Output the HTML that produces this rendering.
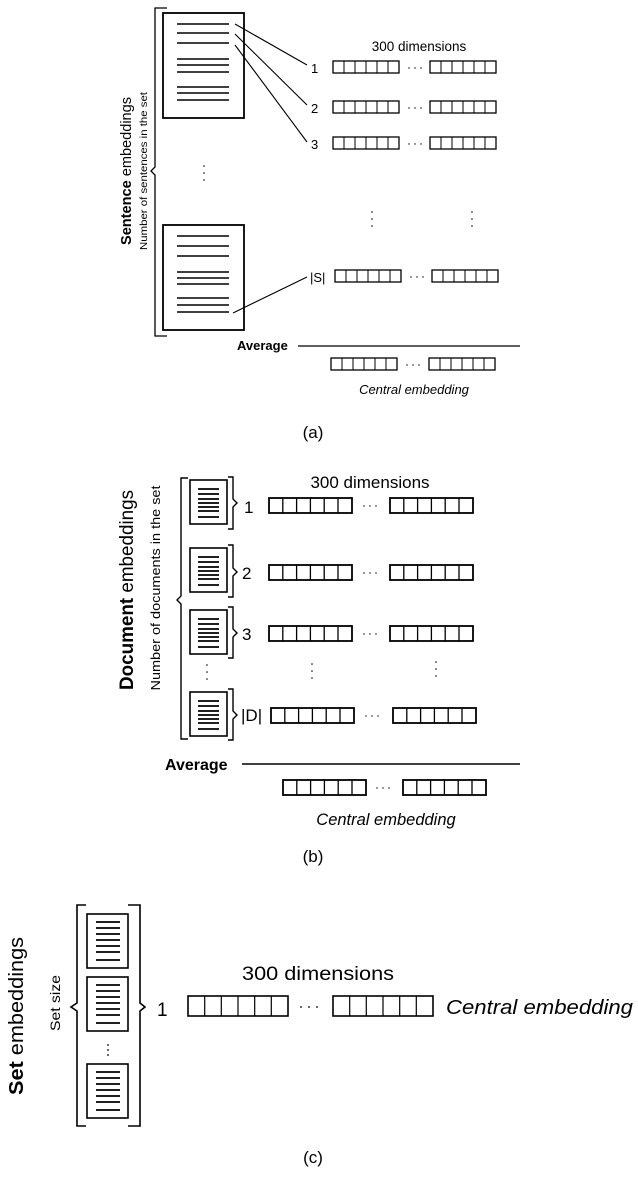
<!DOCTYPE html>
<html><head><meta charset="utf-8"><style>
html,body{margin:0;padding:0;background:#fff;}
svg{display:block;font-family:"Liberation Sans",sans-serif;}
</style></head><body>
<svg width="638" height="1177" viewBox="0 0 638 1177" xmlns="http://www.w3.org/2000/svg">
<defs>
<g id="va" fill="none" stroke="#000" stroke-width="1.3"><rect x="0" y="0" width="66" height="12"/><path d="M11,0V12M22,0V12M33,0V12M44,0V12M55,0V12" stroke-width="1"/></g>
<g id="vb" fill="none" stroke="#000" stroke-width="1.8"><rect x="0" y="0" width="83" height="15"/><path d="M13.8,0V15M27.6,0V15M41.4,0V15M55.2,0V15M69,0V15" stroke-width="1.3"/></g>
<g id="vc" fill="none" stroke="#000" stroke-width="1.6"><rect x="0" y="0" width="100" height="20"/><path d="M16.7,0V20M33.3,0V20M50,0V20M66.7,0V20M83.3,0V20" stroke-width="1.2"/></g>
<g id="db" fill="none" stroke="#000"><rect x="0" y="0" width="37" height="44" stroke-width="1.6"/><path d="M8,9H29M8,14H29M8,19H29M8,23H29M8,27H29M8,31H29M8,37H29" stroke-width="1.8"/></g>
<g id="dc" fill="none" stroke="#000"><rect x="0" y="0" width="41" height="54" stroke-width="1.6"/><path d="M9,8H33M9,14H33M9,20H33M9,26H33M9,32H33M9,38H33M9,46H33" stroke-width="1.8"/></g>
<g id="d3a" fill="#000"><circle cx="0" cy="0" r="0.7"/><circle cx="6" cy="0" r="0.7"/><circle cx="12" cy="0" r="0.7"/></g>
<g id="v3a" fill="#000"><circle cx="0" cy="0" r="0.8"/><circle cx="0" cy="7" r="0.8"/><circle cx="0" cy="14" r="0.8"/></g>
</defs>

<!-- ===== Panel (a) ===== -->
<path d="M167,8H155V167L151,171L155,175V336H167" fill="none" stroke="#000" stroke-width="1.3"/>
<g fill="none" stroke="#000">
<rect x="163" y="13" width="81" height="105" stroke-width="1.8"/>
<path d="M177,24H229M177,33H229M177,43H229M177,59H229M177,65H229M177,72H229M177,87H229M177,93H229M177,100H229" stroke-width="1.6"/>
<rect x="163" y="225" width="81" height="105" stroke-width="1.8"/>
<path d="M177,236H229M177,246H229M177,256H229M177,272H229M177,278H229M177,284H229M177,298H229M177,305H229M177,312H229" stroke-width="1.6"/>
<path d="M235,24L307,65M235,34L307,105M235,45L307,142M233,313L307,277" stroke-width="1.1"/>
</g>
<use href="#v3a" x="204" y="166"/>
<text x="419" y="51" font-size="13.5" text-anchor="middle">300 dimensions</text>
<text x="311" y="73" font-size="13">1</text>
<text x="311" y="113" font-size="13">2</text>
<text x="311" y="149" font-size="13">3</text>
<text x="310" y="282" font-size="13">|S|</text>
<use href="#va" x="333" y="61"/><use href="#d3a" x="409" y="68"/><use href="#va" x="430" y="61"/>
<use href="#va" x="333" y="101"/><use href="#d3a" x="409" y="108"/><use href="#va" x="430" y="101"/>
<use href="#va" x="333" y="137"/><use href="#d3a" x="409" y="144"/><use href="#va" x="430" y="137"/>
<use href="#v3a" x="372" y="212"/><use href="#v3a" x="472" y="212"/>
<use href="#va" x="335" y="270"/><use href="#d3a" x="411" y="277"/><use href="#va" x="432" y="270"/>
<text x="237" y="350" font-size="13" font-weight="bold">Average</text>
<path d="M298,346H520" stroke="#000" stroke-width="1.3"/>
<use href="#va" x="331" y="358"/><use href="#d3a" x="407" y="365"/><use href="#va" x="429" y="358"/>
<text x="414" y="394" font-size="13" font-style="italic" text-anchor="middle">Central embedding</text>
<text x="313" y="438" font-size="17" text-anchor="middle">(a)</text>
<text transform="translate(131,171) rotate(-90)" font-size="15" text-anchor="middle" textLength="148" lengthAdjust="spacingAndGlyphs"><tspan font-weight="bold">Sentence</tspan> embeddings</text>
<text transform="translate(147,171) rotate(-90)" font-size="10.5" text-anchor="middle" textLength="158" lengthAdjust="spacingAndGlyphs">Number of sentences in the set</text>

<!-- ===== Panel (b) ===== -->
<path d="M188,478H181V596L177,600L181,604V739H188" fill="none" stroke="#000" stroke-width="1.4"/>
<use href="#db" x="190" y="480"/>
<use href="#db" x="190" y="548"/>
<use href="#db" x="190" y="610"/>
<use href="#db" x="190" y="692"/>
<g fill="none" stroke="#000" stroke-width="1.4">
<path d="M228,477H233V499L237,503L233,507V529H228"/>
<path d="M228,545H233V568L237,572L233,576V597H228"/>
<path d="M228,607H233V629L237,633L233,637V658H228"/>
<path d="M228,689H233V711L237,715L233,719V740H228"/>
</g>
<use href="#v3a" x="207" y="665"/>
<text x="370" y="488" font-size="17" text-anchor="middle">300 dimensions</text>
<text x="244" y="513" font-size="17">1</text>
<text x="242" y="579" font-size="17">2</text>
<text x="242" y="640" font-size="17">3</text>
<text x="241" y="721" font-size="17">|D|</text>
<use href="#vb" x="269" y="498"/><use href="#d3a" x="364" y="506"/><use href="#vb" x="390" y="498"/>
<use href="#vb" x="269" y="565"/><use href="#d3a" x="364" y="573"/><use href="#vb" x="390" y="565"/>
<use href="#vb" x="269" y="626"/><use href="#d3a" x="364" y="634"/><use href="#vb" x="390" y="626"/>
<use href="#v3a" x="312" y="664"/><use href="#v3a" x="436" y="662"/>
<use href="#vb" x="271" y="708"/><use href="#d3a" x="366" y="716"/><use href="#vb" x="393" y="708"/>
<text x="165" y="770" font-size="16" font-weight="bold">Average</text>
<path d="M242,764H520" stroke="#000" stroke-width="1.6"/>
<use href="#vb" x="283" y="780"/><use href="#d3a" x="377" y="788"/><use href="#vb" x="403" y="780"/>
<text x="386" y="825" font-size="16.5" font-style="italic" text-anchor="middle">Central embedding</text>
<text x="313" y="862" font-size="17" text-anchor="middle">(b)</text>
<text transform="translate(133,590) rotate(-90)" font-size="19" text-anchor="middle" textLength="200" lengthAdjust="spacingAndGlyphs"><tspan font-weight="bold">Document</tspan> embeddings</text>
<text transform="translate(160,588) rotate(-90)" font-size="13" text-anchor="middle" textLength="205" lengthAdjust="spacingAndGlyphs">Number of documents in the set</text>

<!-- ===== Panel (c) ===== -->
<g fill="none" stroke="#000" stroke-width="1.6">
<path d="M86,905H77V1003L71,1007L77,1011V1126H86"/>
<path d="M128,905H140V1003L145,1007L140,1011V1126H128"/>
</g>
<use href="#dc" x="87" y="914"/>
<use href="#dc" x="87" y="977"/>
<use href="#dc" x="87" y="1064"/>
<g fill="#000"><circle cx="108" cy="1045" r="0.9"/><circle cx="108" cy="1050" r="0.9"/><circle cx="108" cy="1055" r="0.9"/></g>
<text x="318" y="980" font-size="19" text-anchor="middle" textLength="152" lengthAdjust="spacingAndGlyphs">300 dimensions</text>
<text x="157" y="1016" font-size="19">1</text>
<use href="#vc" x="188" y="996"/>
<g fill="#000"><circle cx="301" cy="1007" r="0.9"/><circle cx="309" cy="1007" r="0.9"/><circle cx="317" cy="1007" r="0.9"/></g>
<use href="#vc" x="333" y="996"/>
<text x="446" y="1014" font-size="20" font-style="italic" textLength="187" lengthAdjust="spacingAndGlyphs">Central embedding</text>
<text x="313" y="1163" font-size="17" text-anchor="middle">(c)</text>
<text transform="translate(23,1016) rotate(-90)" font-size="20" text-anchor="middle" textLength="158" lengthAdjust="spacingAndGlyphs"><tspan font-weight="bold">Set</tspan> embeddings</text>
<text transform="translate(60,1003) rotate(-90)" font-size="14" text-anchor="middle" textLength="56" lengthAdjust="spacingAndGlyphs">Set size</text>
</svg>
</body></html>
